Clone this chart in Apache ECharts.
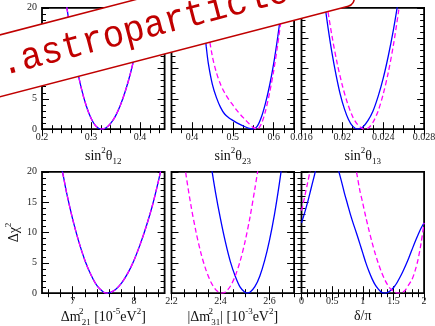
<!DOCTYPE html>
<html>
<head>
<meta charset="UTF-8">
<title>Oscillation parameter profiles</title>
<style>
  * { margin: 0; padding: 0; }
  body { background: #fff; }
  #chart { width: 435px; height: 326px; }
</style>
<script src="https://cdn.jsdelivr.net/npm/echarts@6/dist/echarts.min.js"></script>
</head>
<body>
<div id="chart"></div>
<script>
// sin^2 theta12 (both orderings coincide)
const s12X  = [0.245, 0.25, 0.26, 0.27, 0.28, 0.29, 0.30, 0.31, 0.321, 0.33, 0.34, 0.35, 0.36, 0.37, 0.38, 0.39, 0.40, 0.41, 0.415];
const s12NO = [22.7, 20.4, 15.1, 10.6, 6.8, 3.9, 1.8, 0.5, 0, 0.2, 0.95, 2.2, 4.0, 6.3, 9.1, 12.5, 16.4, 20.8, 23.2];
const s12IO = [22.7, 20.4, 15.1, 10.6, 6.8, 3.9, 1.8, 0.5, 0, 0.2, 0.95, 2.2, 4.0, 6.3, 9.1, 12.5, 16.4, 20.8, 23.2];

// sin^2 theta23
const s23XNO = [0.42, 0.425, 0.43, 0.435, 0.44, 0.45, 0.46, 0.47, 0.48, 0.49, 0.50, 0.51, 0.52, 0.53, 0.54, 0.55, 0.56, 0.57, 0.58, 0.59, 0.60, 0.61, 0.62, 0.625];
const s23NO  = [23.5, 20.5, 16.8, 13.6, 10.9, 7.4, 5.2, 3.6, 2.5, 1.9, 1.45, 1.05, 0.7, 0.4, 0.15, 0, 0.5, 2.0, 4.3, 7.2, 10.8, 15.2, 20.3, 23.2];
const s23XIO = [0.43, 0.435, 0.44, 0.45, 0.46, 0.47, 0.48, 0.49, 0.50, 0.51, 0.52, 0.53, 0.54, 0.55, 0.56, 0.57, 0.58, 0.59, 0.60, 0.61, 0.62, 0.625];
const s23IO  = [23.5, 20.3, 16.2, 12.0, 9.3, 7.4, 6.0, 4.9, 4.0, 3.1, 2.3, 1.6, 0.9, 0.3, 0, 0.9, 3.0, 6.0, 9.6, 14.0, 19.0, 21.8];

// sin^2 theta13
const s13XNO = [0.018, 0.0182, 0.0186, 0.019, 0.0194, 0.0198, 0.0202, 0.0206, 0.021, 0.0215, 0.022, 0.0225, 0.023, 0.0235, 0.024, 0.0245, 0.025, 0.0254, 0.0256];
const s13NO  = [24.3, 21.6, 16.7, 12.4, 8.8, 5.7, 3.35, 1.6, 0.5, 0, 0.35, 1.4, 3.0, 5.4, 8.4, 12.1, 16.4, 20.4, 22.5];
const s13XIO = [0.0182, 0.0185, 0.019, 0.0195, 0.02, 0.0205, 0.021, 0.0215, 0.022, 0.0222, 0.0226, 0.023, 0.0235, 0.024, 0.0245, 0.025, 0.0255, 0.0258];
const s13IO  = [24.5, 20.4, 15.2, 10.8, 7.2, 4.3, 2.1, 0.73, 0.06, 0, 0.28, 1.14, 3.0, 5.8, 9.4, 13.9, 19.4, 23.0];

// dm21^2 [1e-5 eV^2] (both orderings coincide)
const dm21X  = [6.78, 6.85, 6.9, 7.0, 7.1, 7.2, 7.3, 7.4, 7.5, 7.55, 7.6, 7.7, 7.8, 7.9, 8.0, 8.1, 8.2, 8.3, 8.4, 8.46];
const dm21NO = [22.5, 19.2, 16.6, 12.2, 8.5, 5.4, 3.0, 1.2, 0.2, 0, 0.05, 0.6, 1.7, 3.3, 5.4, 8.0, 11.0, 14.4, 18.5, 21.3];
const dm21IO = [22.5, 19.2, 16.6, 12.2, 8.5, 5.4, 3.0, 1.2, 0.2, 0, 0.05, 0.6, 1.7, 3.3, 5.4, 8.0, 11.0, 14.4, 18.5, 21.3];

// |dm31^2| [1e-3 eV^2]
const dm31XNO = [2.35, 2.36, 2.38, 2.40, 2.42, 2.44, 2.46, 2.48, 2.50, 2.508, 2.52, 2.54, 2.56, 2.58, 2.60, 2.62, 2.64, 2.655];
const dm31NO  = [24.5, 21.5, 16.5, 12.2, 8.4, 5.2, 2.8, 1.0, 0.1, 0, 0.15, 1.07, 2.8, 5.4, 8.8, 13.0, 18.1, 22.5];
const dm31XIO = [2.245, 2.26, 2.28, 2.30, 2.32, 2.34, 2.36, 2.38, 2.40, 2.405, 2.42, 2.44, 2.46, 2.48, 2.50, 2.52, 2.54, 2.555];
const dm31IO  = [23.8, 19.3, 14.3, 10.1, 6.6, 3.9, 1.9, 0.6, 0.02, 0, 0.2, 1.15, 2.85, 5.3, 8.5, 12.5, 17.2, 21.0];

// delta / pi
const cpXNO = [0, 0.05, 0.1, 0.15, 0.2, 0.25, 0.3, 0.4, 0.5, 0.55, 0.6, 0.65, 0.7, 0.75, 0.8, 0.85, 0.9, 0.95, 1.0, 1.05, 1.1, 1.15, 1.2, 1.25, 1.3, 1.35, 1.4, 1.45, 1.5, 1.55, 1.6, 1.65, 1.7, 1.75, 1.8, 1.85, 1.9, 1.95, 2.0];
const cpNO  = [11.6, 13.2, 15.0, 17.0, 19.0, 21.0, 22.5, 24.0, 23.5, 22.3, 20.4, 18.5, 16.5, 14.7, 12.9, 11.3, 9.8, 8.2, 6.6, 5.0, 3.6, 2.4, 1.4, 0.7, 0.2, 0, 0.1, 0.4, 0.9, 1.6, 2.5, 3.5, 4.6, 5.8, 7.1, 8.4, 9.6, 10.7, 11.6];
const cpXIO = [0, 0.05, 0.1, 0.15, 0.2, 0.3, 0.5, 0.7, 0.8, 0.85, 0.9, 0.95, 1.0, 1.05, 1.1, 1.15, 1.2, 1.25, 1.3, 1.35, 1.4, 1.45, 1.5, 1.55, 1.6, 1.65, 1.7, 1.75, 1.8, 1.85, 1.9, 1.95, 2.0];
const cpIO  = [13.6, 15.8, 18.2, 20.6, 23.0, 26.0, 28.0, 26.0, 24.0, 21.8, 19.8, 17.0, 14.8, 12.5, 10.4, 8.4, 6.6, 5.0, 3.6, 2.4, 1.45, 0.75, 0.3, 0.05, 0, 0.15, 0.6, 1.4, 2.2, 3.6, 5.5, 8.2, 11.6];

// axes
const xMin = [0.2, 0.35, 0.016, 6.5, 2.2, 0];
const xMax = [0.45, 0.65, 0.028, 8.5, 2.7, 2];
const xTickLabels = [[0.2, 0.3, 0.4], [0.4, 0.5, 0.6], [0.016, 0.02, 0.024, 0.028], [7, 8], [2.2, 2.4, 2.6], [0, 0.5, 1, 1.5, 2]];
const xMinorStep = [0.02, 0.025, 0.001, 0.2, 0.05, 0.1];
const yTickLabels = [0, 5, 10, 15, 20];
const yMinorStep = 1;

const xNames = [
  '{i|sin}{s|2}{i|θ}{b|12}',
  '{i|sin}{s|2}{i|θ}{b|23}',
  '{i|sin}{s|2}{i|θ}{b|13}',
  '{i|Δm}{s0|2}{b|21}{i| [10}{s|-5}{i|eV}{s|2}{i|]}',
  '{i||Δm}{s0|2}{b|31}{i|| [10}{s|-3}{i|eV}{s|2}{i|]}',
  '{i|δ/π}'
];

const panels = [
  [s12X, s12NO, s12X, s12IO],
  [s23XNO, s23NO, s23XIO, s23IO],
  [s13XNO, s13NO, s13XIO, s13IO],
  [dm21X, dm21NO, dm21X, dm21IO],
  [dm31XNO, dm31NO, dm31XIO, dm31IO],
  [cpXNO, cpNO, cpXIO, cpIO]
];

const colLeft = [42, 171.5, 301.5];
const rowTop = [7.8, 171.8];
const boxW = 122.6, boxH = 121.4;
const serif = 'Liberation Serif';

function steps(min, max, step) {
  const out = [];
  for (let k = Math.ceil(min / step - 1e-9); k * step <= max + 1e-9; k++) out.push(+(k * step).toFixed(6));
  return out;
}
const fmt = v => String(parseFloat((+v).toFixed(4)));

const rich = {
  i: { fontSize: 14, fontFamily: serif, color: '#111', lineHeight: 20 },
  s: { fontSize: 9, fontFamily: serif, color: '#111', lineHeight: 10, verticalAlign: 'top' },
  s0: { fontSize: 9, fontFamily: serif, color: '#111', lineHeight: 10, verticalAlign: 'top', width: 1 },
  b: { fontSize: 9, fontFamily: serif, color: '#111', lineHeight: 10, verticalAlign: 'bottom' }
};

const grid = [], xAxis = [], yAxis = [], series = [];

function tickAxis(gi, pos, min, max, values, len, extra) {
  return Object.assign({
    type: 'value', gridIndex: gi, position: pos, min, max,
    axisLine: { show: false }, splitLine: { show: false },
    axisTick: { show: true, inside: true, length: len, customValues: values, lineStyle: { color: '#000', width: 1 } },
    axisLabel: { show: false }
  }, extra || {});
}

panels.forEach((p, i) => {
  const row = Math.floor(i / 3), col = i % 3;
  grid.push({
    left: colLeft[col], top: rowTop[row], width: boxW, height: boxH,
    show: true, borderColor: '#000', borderWidth: 1.8, backgroundColor: 'transparent',
    containLabel: false, outerBoundsMode: 'none'
  });
  const xMinor = steps(xMin[i], xMax[i], xMinorStep[i]);
  xAxis.push(tickAxis(i, 'bottom', xMin[i], xMax[i], xTickLabels[i], 7, {
    axisLabel: { show: true, customValues: xTickLabels[i], formatter: fmt, fontSize: 10, fontFamily: serif, color: '#222', margin: 3 },
    name: xNames[i], nameLocation: 'middle', nameGap: row === 0 ? 17 : 13,
    nameTextStyle: { rich }
  }));
  xAxis.push(tickAxis(i, 'bottom', xMin[i], xMax[i], xMinor, 4));
  xAxis.push(tickAxis(i, 'top', xMin[i], xMax[i], xTickLabels[i], 7));
  xAxis.push(tickAxis(i, 'top', xMin[i], xMax[i], xMinor, 4));

  const yMinor = steps(0, 20, yMinorStep);
  const yExtra = col === 0 ? {
    axisLabel: { show: true, customValues: yTickLabels, formatter: fmt, fontSize: 10, fontFamily: serif, color: '#222', margin: 5 }
  } : {};
  if (i === 3) Object.assign(yExtra, {
    name: '{i|Δχ}{s|2}', nameLocation: 'middle', nameRotate: 90, nameGap: 18, nameTextStyle: { rich }
  });
  yAxis.push(tickAxis(i, 'left', 0, 20, yTickLabels, 7, yExtra));
  yAxis.push(tickAxis(i, 'left', 0, 20, yMinor, 4));
  yAxis.push(tickAxis(i, 'right', 0, 20, yTickLabels, 7));
  yAxis.push(tickAxis(i, 'right', 0, 20, yMinor, 4));

  series.push({
    type: 'line', xAxisIndex: 4 * i, yAxisIndex: 4 * i, showSymbol: false, smooth: 0.3,
    data: p[0].map((x, k) => [x, p[1][k]]),
    lineStyle: { color: '#0000ff', width: 1.3 }, z: 3
  });
  series.push({
    type: 'line', xAxisIndex: 4 * i, yAxisIndex: 4 * i, showSymbol: false, smooth: 0.3,
    data: p[2].map((x, k) => [x, p[3][k]]),
    lineStyle: { color: '#ff00ff', width: 1.3, type: [5, 3] }, z: 4
  });
});

const chart = echarts.init(document.getElementById('chart'), null, { renderer: 'canvas' });
chart.setOption({
  animation: false,
  backgroundColor: '#fff',
  grid, xAxis, yAxis, series,
  graphic: [{
    type: 'group', x: 0, y: 65.85, rotation: 0.2545, z: 100, zlevel: 1,
    children: [
      { type: 'rect', z: 100, zlevel: 1, shape: { x: -200, y: -30, width: 560, height: 60, r: 8 },
        style: { fill: '#fff', stroke: '#c00000', lineWidth: 1.5 } },
      { type: 'text', z: 101, zlevel: 1, x: -63, y: 0, scaleX: 0.93,
        style: { text: 'www.astroparticles.es', font: '38px "Liberation Mono"', fill: '#c00000', verticalAlign: 'middle', align: 'left' } }
    ]
  }]
});
window.addEventListener('resize', () => chart.resize());
</script>
</body>
</html>
